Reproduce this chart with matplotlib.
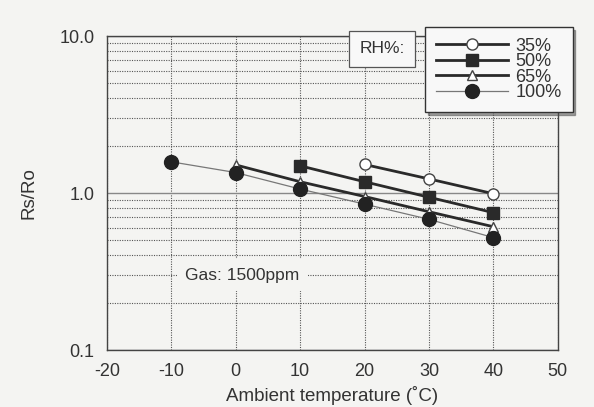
import numpy as np
import matplotlib
matplotlib.use('Agg')
import matplotlib.pyplot as plt
from matplotlib.ticker import FixedLocator, NullFormatter

plt.rcParams['font.family'] = ['Liberation Sans', 'DejaVu Sans']
plt.rcParams['axes.unicode_minus'] = False

# data
temp_35 = [20, 30, 40]
rs_35 = [1.52, 1.23, 0.99]
temp_50 = [10, 20, 30, 40]
rs_50 = [1.49, 1.18, 0.94, 0.75]
temp_65 = [0, 10, 20, 30, 40]
rs_65 = [1.51, 1.18, 0.95, 0.76, 0.61]
temp_100 = [-10, 0, 10, 20, 30, 40]
rs_100 = [1.58, 1.35, 1.06, 0.85, 0.68, 0.52]

x_ticks = [-20, -10, 0, 10, 20, 30, 40, 50]
y_ticks = [0.1, 1.0, 10.0]
y_tick_labels = ['0.1', '1.0', '10.0']

bg = '#f4f4f2'
txt = '#333333'

fig = plt.figure(figsize=(5.94, 4.07), dpi=100, facecolor=bg)
ax = fig.add_axes([0.180, 0.140, 0.759, 0.7715])
ax.set_facecolor(bg)

ax.set_yscale('log')
ax.set_xlim(-20, 50)
ax.set_ylim(0.1, 10)

ax.xaxis.set_major_locator(FixedLocator(x_ticks))
ax.yaxis.set_major_locator(FixedLocator(y_ticks))
ax.set_yticklabels(y_tick_labels)
minors = [m * d for d in (0.1, 1.0) for m in range(2, 10)]
ax.yaxis.set_minor_locator(FixedLocator(minors))
ax.yaxis.set_minor_formatter(NullFormatter())

ax.tick_params(axis='both', which='both', length=0, labelsize=13,
               labelcolor=txt, pad=9)

ax.grid(True, axis='x', which='major', color='#555555', linestyle=(0, (1, 1.2)), linewidth=0.8)
ax.grid(True, axis='y', which='minor', color='#555555', linestyle=(0, (1, 1.2)), linewidth=0.8)
ax.grid(True, axis='y', which='major', color='#888888', linestyle='-', linewidth=1.0)

for s in ax.spines.values():
    s.set_color('#444444')
    s.set_linewidth(1.0)

ax.plot(temp_35, rs_35, color='#2a2a2a', lw=2, marker='o', ms=8,
        mfc='white', mec='#444444', mew=1, label='35%', zorder=3)
ax.plot(temp_50, rs_50, color='#2a2a2a', lw=2, marker='s', ms=9,
        mfc='#2a2a2a', mec='#2a2a2a', label='50%', zorder=3)
ax.plot(temp_65, rs_65, color='#2a2a2a', lw=2, marker='^', ms=7,
        mfc='white', mec='#444444', mew=1, label='65%', zorder=3)
ax.plot(temp_100, rs_100, color='#777777', lw=0.9, marker='o', ms=10,
        mfc='#222222', mec='#222222', label='100%', zorder=3)

ax.text(1, 0.3, 'Gas: 1500ppm', fontsize=12.5, color=txt, ha='center', va='center',
        bbox=dict(facecolor=bg, edgecolor='none', pad=6), zorder=4)

ax.set_ylabel('Rs/Ro', fontsize=13.5, color=txt, labelpad=16)
ax.set_xlabel('Ambient temperature (˚C)', fontsize=13.5, color=txt, labelpad=5)

leg = ax.legend(loc='upper left', bbox_to_anchor=(0.716, 0.934),
                bbox_transform=fig.transFigure,
                frameon=True, fancybox=False, shadow=True, fontsize=13,
                handlelength=4.0, handletextpad=0.4, labelspacing=-0.08,
                borderpad=0.6, borderaxespad=0)
leg.get_frame().set_edgecolor('#333333')
leg.get_frame().set_facecolor('#f8f8f8')
leg.get_frame().set_linewidth(1.0)
for t in leg.get_texts():
    t.set_color(txt)

fig.text(0.643, 0.880, 'RH%:', fontsize=12.5, color=txt, ha='center', va='center',
         bbox=dict(facecolor='#f8f8f8', edgecolor='#555555', pad=7.5, linewidth=0.9))

fig.savefig('out.png', dpi=100, facecolor=bg)
